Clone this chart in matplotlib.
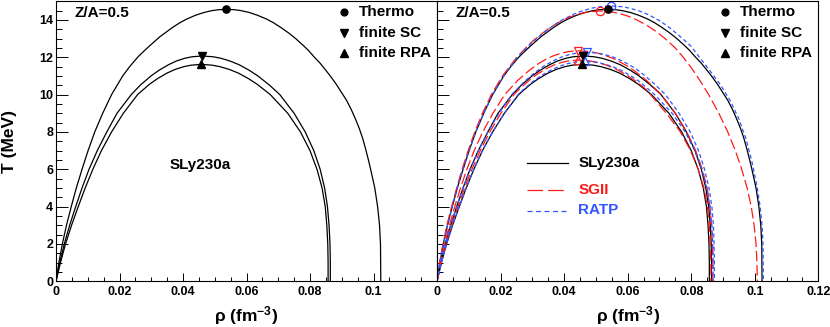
import matplotlib
matplotlib.use("Agg")
import matplotlib.pyplot as plt
from matplotlib.ticker import FixedLocator, FixedFormatter, MultipleLocator

plt.rcParams['font.family'] = ['Liberation Sans', 'DejaVu Sans']
plt.rcParams['font.weight'] = 'bold'
plt.rcParams['mathtext.fontset'] = 'custom'
plt.rcParams['mathtext.rm'] = 'Liberation Sans:bold'
plt.rcParams['mathtext.bf'] = 'Liberation Sans:bold'
plt.rcParams['mathtext.it'] = 'Liberation Sans:bold'

# ---------------- data (rho in fm^-3, T in MeV) ----------------
# SLy230a
sly_thermo_rho = [0.0, 0.0009, 0.0020, 0.0033, 0.0048, 0.0064, 0.0082, 0.0101, 0.0122, 0.0147,
                  0.0175, 0.0210, 0.0232, 0.0257, 0.0275, 0.0294, 0.0327, 0.0367, 0.0390, 0.0412,
                  0.0439, 0.0466, 0.0491, 0.0513, 0.0537,
                  0.0562, 0.0583, 0.0609, 0.0635, 0.0663, 0.0685, 0.0708, 0.0733, 0.0755, 0.0781,
                  0.0796, 0.0814, 0.0831, 0.0850, 0.0866, 0.0883, 0.0898, 0.0915, 0.0930, 0.0943,
                  0.0955, 0.0966, 0.0975, 0.0984, 0.0991, 0.1004, 0.1013, 0.1019, 0.1022, 0.1023]
sly_thermo_T = [0, 1, 2, 3, 4, 5, 6, 7, 8, 9,
                10, 11, 11.5, 12.0, 12.3, 12.6, 13.1, 13.6, 13.85, 14.05,
                14.25, 14.4, 14.5, 14.55, 14.57,
                14.55, 14.5, 14.4, 14.25, 14.05, 13.85, 13.6, 13.3, 13.0, 12.6,
                12.35, 12.0, 11.7, 11.3, 10.95, 10.55, 10.15, 9.7, 9.2, 8.7,
                8.2, 7.65, 7.1, 6.5, 6.0, 5.0, 4.0, 3.0, 2.0, 0]
sly_sc_rho = [0.0, 0.0012, 0.0026, 0.0043, 0.0062, 0.0082, 0.0104, 0.0130, 0.0160, 0.0192,
              0.0237, 0.0265, 0.0299, 0.0324, 0.0354, 0.0379, 0.0406, 0.0429, 0.0460,
              0.0494, 0.0519, 0.0548, 0.0577, 0.0609, 0.0636, 0.0673, 0.0705, 0.0750,
              0.0785, 0.0812, 0.0832, 0.0846, 0.0855, 0.0860, 0.0863, 0.0864, 0.0864]
sly_sc_T = [0, 1, 2, 3, 4, 5, 6, 7, 8, 9,
            10, 10.5, 11.0, 11.3, 11.6, 11.8, 11.95, 12.03, 12.07,
            12.03, 11.95, 11.8, 11.6, 11.3, 11.0, 10.5, 10.0, 9,
            8, 7, 6, 5, 4, 3, 2, 1, 0]
sly_rpa_rho = [0.0, 0.0014, 0.0030, 0.0049, 0.0070, 0.0092, 0.0116, 0.0143, 0.0175, 0.0212,
               0.0257, 0.0260, 0.0294, 0.0319, 0.0349, 0.0375, 0.0403, 0.0426, 0.0457,
               0.0491, 0.0516, 0.0546, 0.0575, 0.0607, 0.0634, 0.0675, 0.0730,
               0.0770, 0.0800, 0.0822, 0.0838, 0.0848, 0.0853, 0.0856, 0.0857, 0.0857]
sly_rpa_T = [0, 1, 2, 3, 4, 5, 6, 7, 8, 9,
             10, 10.05, 10.55, 10.85, 11.15, 11.35, 11.5, 11.58, 11.62,
             11.58, 11.5, 11.35, 11.15, 10.85, 10.55, 10.0, 9,
             8, 7, 6, 5, 4, 3, 2, 1, 0]

# SGII
sg_thermo_rho = [0.0, 0.0008, 0.0019, 0.0031, 0.0046, 0.0062, 0.0079, 0.0098, 0.0119, 0.0143,
                 0.0171, 0.0206, 0.0251, 0.0278, 0.0304, 0.0341, 0.0367, 0.0398, 0.0426, 0.0455,
                 0.0479, 0.0512,
                 0.0546, 0.0571, 0.0600, 0.0628, 0.0661, 0.0687, 0.0718, 0.0750, 0.0775, 0.0798,
                 0.0818, 0.0837, 0.0855, 0.0887, 0.0915, 0.0939, 0.0959, 0.0976, 0.0989, 0.0998,
                 0.1004, 0.1007, 0.1008]
sg_thermo_T = [0, 1, 2, 3, 4, 5, 6, 7, 8, 9,
               10, 11, 12, 12.48, 12.91, 13.41, 13.71, 14.01, 14.21, 14.36,
               14.44, 14.48,
               14.44, 14.36, 14.21, 14.01, 13.71, 13.41, 13.0, 12.5, 12.0, 11.5,
               11.0, 10.5, 10.0, 9, 8, 7, 6, 5, 4, 3,
               2, 1, 0]
sg_sc_rho = [0.0, 0.0011, 0.0024, 0.0039, 0.0056, 0.0074, 0.0094, 0.0117, 0.0144, 0.0176,
             0.0213, 0.0255, 0.0289, 0.0312, 0.0341, 0.0366, 0.0393, 0.0415, 0.0445,
             0.0479, 0.0504, 0.0533, 0.0562, 0.0594, 0.0621, 0.0658, 0.0706, 0.0750,
             0.0786, 0.0814, 0.0835, 0.0850, 0.0859, 0.0864, 0.0867, 0.0868, 0.0868]
sg_sc_T = [0, 1, 2, 3, 4, 5, 6, 7, 8, 9,
           10, 10.78, 11.28, 11.58, 11.88, 12.08, 12.23, 12.31, 12.35,
           12.31, 12.23, 12.08, 11.88, 11.58, 11.28, 10.78, 10.0, 9,
           8, 7, 6, 5, 4, 3, 2, 1, 0]
sg_rpa_rho = [0.0, 0.0013, 0.0028, 0.0046, 0.0066, 0.0087, 0.0110, 0.0136, 0.0166, 0.0201,
              0.0242, 0.0258, 0.0291, 0.0314, 0.0343, 0.0367, 0.0393, 0.0415, 0.0445,
              0.0479, 0.0504, 0.0533, 0.0562, 0.0594, 0.0621, 0.0658, 0.0672, 0.0722,
              0.0766, 0.0798, 0.0822, 0.0840, 0.0851, 0.0857, 0.0860, 0.0862, 0.0862]
sg_rpa_T = [0, 1, 2, 3, 4, 5, 6, 7, 8, 9,
            10, 10.28, 10.78, 11.08, 11.38, 11.58, 11.73, 11.81, 11.85,
            11.81, 11.73, 11.58, 11.38, 11.08, 10.78, 10.28, 10.0, 9,
            8, 7, 6, 5, 4, 3, 2, 1, 0]

# RATP
ra_thermo_rho = [0.0, 0.0009, 0.0020, 0.0033, 0.0048, 0.0064, 0.0082, 0.0101, 0.0122, 0.0147,
                 0.0175, 0.0210, 0.0253, 0.0287, 0.0325, 0.0364, 0.0392, 0.0426, 0.0456, 0.0486,
                 0.0512, 0.0548,
                 0.0582, 0.0607, 0.0637, 0.0666, 0.0698, 0.0725, 0.0761, 0.0799, 0.0826, 0.0858,
                 0.0891, 0.0922, 0.0950, 0.0972, 0.0990, 0.1008, 0.1017, 0.1023, 0.1026, 0.1027]
ra_thermo_T = [0, 1, 2, 3, 4, 5, 6, 7, 8, 9,
               10, 11, 12, 12.6, 13.18, 13.68, 13.98, 14.28, 14.48, 14.63,
               14.71, 14.75,
               14.71, 14.63, 14.48, 14.28, 13.98, 13.68, 13.18, 12.6, 12.0, 11.3,
               10.55, 9.7, 8.7, 7.65, 6.5, 5.0, 4.0, 3.0, 2.0, 0]
ra_sc_rho = [0.0, 0.0012, 0.0026, 0.0043, 0.0062, 0.0082, 0.0104, 0.0130, 0.0160, 0.0195,
             0.0235, 0.0275, 0.0309, 0.0334, 0.0364, 0.0390, 0.0417, 0.0440, 0.0471,
             0.0504, 0.0528, 0.0556, 0.0584, 0.0615, 0.0641, 0.0676, 0.0719, 0.0762,
             0.0797, 0.0823, 0.0842, 0.0856, 0.0865, 0.0870, 0.0872, 0.0873, 0.0873]
ra_sc_T = [0, 1, 2, 3, 4, 5, 6, 7, 8, 9,
           10, 10.7, 11.2, 11.5, 11.8, 12.0, 12.15, 12.23, 12.27,
           12.23, 12.15, 12.0, 11.8, 11.5, 11.2, 10.7, 10.0, 9,
           8, 7, 6, 5, 4, 3, 2, 1, 0]
ra_rpa_rho = [0.0, 0.0014, 0.0030, 0.0049, 0.0070, 0.0092, 0.0116, 0.0143, 0.0175, 0.0212,
              0.0255, 0.0268, 0.0302, 0.0327, 0.0358, 0.0384, 0.0411, 0.0434, 0.0466,
              0.0499, 0.0523, 0.0551, 0.0579, 0.0610, 0.0636, 0.0671, 0.0685, 0.0740,
              0.0781, 0.0811, 0.0833, 0.0849, 0.0859, 0.0865, 0.0868, 0.0869, 0.0869]
ra_rpa_T = [0, 1, 2, 3, 4, 5, 6, 7, 8, 9,
            10, 10.21, 10.71, 11.01, 11.31, 11.51, 11.66, 11.74, 11.78,
            11.74, 11.66, 11.51, 11.31, 11.01, 10.71, 10.21, 10.0, 9,
            8, 7, 6, 5, 4, 3, 2, 1, 0]

# peak markers (rho, T)
sly_peaks = {'thermo': (0.0537, 14.57), 'sc': (0.0460, 12.07), 'rpa': (0.0457, 11.62)}
sg_peaks = {'thermo': (0.0512, 14.48), 'sc': (0.0445, 12.35), 'rpa': (0.0445, 11.85)}
ra_peaks = {'thermo': (0.0548, 14.75), 'sc': (0.0471, 12.27), 'rpa': (0.0466, 11.78)}

x_ticks = [0, 0.02, 0.04, 0.06, 0.08, 0.10, 0.12]
x_labels_left = ['0', '0.02', '0.04', '0.06', '0.08', '0.1', '']
x_labels_right = ['0', '0.02', '0.04', '0.06', '0.08', '0.1', '0.12']
y_ticks = [0, 2, 4, 6, 8, 10, 12, 14]
y_labels = ['0', '2', '4', '6', '8', '10', '12', '14']
legend_markers = ['Thermo', 'finite SC', 'finite RPA']
legend_models = ['SLy230a', 'SGII', 'RATP']

RED = '#ff1a1a'
BLUE = '#3355ff'
W, H = 830, 327

fig = plt.figure(figsize=(W / 100, H / 100), dpi=100)
ax_bottom = (H - 281.3) / H
ax_h = 280.0 / H
axL = fig.add_axes([56 / W, ax_bottom, 381 / W, ax_h])
axR = fig.add_axes([437 / W, ax_bottom, 381.3 / W, ax_h])

for ax, xl in ((axL, x_labels_left), (axR, x_labels_right)):
    ax.set_xlim(0, 0.12)
    ax.set_ylim(0, 15)
    ax.xaxis.set_major_locator(FixedLocator(x_ticks))
    ax.xaxis.set_major_formatter(FixedFormatter(xl))
    ax.xaxis.set_minor_locator(MultipleLocator(0.005))
    ax.yaxis.set_major_locator(FixedLocator(y_ticks))
    ax.yaxis.set_minor_locator(MultipleLocator(0.5))
    ax.tick_params(axis='x', which='major', direction='in', length=5.8, width=0.7,
                   labelsize=9, pad=3.5, top=False)
    ax.tick_params(axis='x', which='minor', direction='in', length=2.9, width=0.7, top=False)
    ax.tick_params(axis='y', which='major', direction='in', length=8.5, width=0.7,
                   labelsize=9, pad=2, right=False)
    ax.tick_params(axis='y', which='minor', direction='in', length=4.3, width=0.7, right=False)
    for s in ax.spines.values():
        s.set_linewidth(0.8)
    for lab in ax.get_xticklabels() + ax.get_yticklabels():
        lab.set_fontweight('bold')

axL.yaxis.set_major_formatter(FixedFormatter(y_labels))
axR.yaxis.set_major_formatter(FixedFormatter([''] * len(y_ticks)))

LW = 0.9
RED_DASH = (8.5, 3.0)
BLUE_DASH = (3.2, 2.2)
# left panel
for r, t in ((sly_thermo_rho, sly_thermo_T), (sly_sc_rho, sly_sc_T), (sly_rpa_rho, sly_rpa_T)):
    axL.plot(r, t, color='black', lw=LW)

mk = {'thermo': 'o', 'sc': 'v', 'rpa': '^'}
msz = {'thermo': 5.2, 'sc': 5.5, 'rpa': 5.5}
for k in ('thermo', 'sc', 'rpa'):
    axL.plot(*sly_peaks[k], marker=mk[k], ms=msz[k], color='black', ls='none')

# right panel
for r, t in ((sly_thermo_rho, sly_thermo_T), (sly_sc_rho, sly_sc_T), (sly_rpa_rho, sly_rpa_T)):
    axR.plot(r, t, color='black', lw=LW)
for r, t in ((sg_thermo_rho, sg_thermo_T), (sg_sc_rho, sg_sc_T), (sg_rpa_rho, sg_rpa_T)):
    axR.plot(r, t, color=RED, lw=LW, dashes=RED_DASH)
for r, t in ((ra_thermo_rho, ra_thermo_T), (ra_sc_rho, ra_sc_T), (ra_rpa_rho, ra_rpa_T)):
    axR.plot(r, t, color=BLUE, lw=LW, dashes=BLUE_DASH)

for k in ('thermo', 'sc', 'rpa'):
    axR.plot(*sg_peaks[k], marker=mk[k], ms=msz[k] + 0.8, mfc='none', mec=RED, mew=0.9, ls='none')
    axR.plot(*ra_peaks[k], marker=mk[k], ms=msz[k] + 0.8, mfc='none', mec=BLUE, mew=0.9, ls='none')
    axR.plot(*sly_peaks[k], marker=mk[k], ms=msz[k], color='black', ls='none')

# texts
FS = 11
def px(x, y):
    return x / W, 1 - y / H

for x0 in (74, 455):
    fig.text(*px(x0, 12.7), 'Z/A=0.5', fontsize=FS, fontweight='bold', ha='left', va='center')

for mx in (343.5, 725):
    rows = (11.7, 33.3, 53.3)
    for (lab, k), yy in zip(zip(legend_markers, ('thermo', 'sc', 'rpa')), rows):
        fig.lines.append(plt.Line2D([mx / W], [1 - yy / H], marker=mk[k], ms=msz[k] - 0.3,
                                    color='black', ls='none', transform=fig.transFigure))
        fig.text(*px(mx + 15, yy), lab, fontsize=FS, fontweight='bold', ha='left', va='center')

fig.text(*px(170, 165), 'SLy230a', fontsize=FS, fontweight='bold', ha='left', va='center')

model_colors = ['black', RED, BLUE]
model_dash = [None, (12.5, 4.0), (4.0, 2.8)]
for lab, c, d, yy in zip(legend_models, model_colors, model_dash, (163.3, 190, 210.5)):
    ln = plt.Line2D([526.7 / W, 568.3 / W], [1 - yy / H] * 2, color=c, lw=LW,
                    transform=fig.transFigure)
    if d is not None:
        ln.set_dashes(d)
    fig.lines.append(ln)
    fig.text(*px(578.3, yy), lab, fontsize=FS, fontweight='bold', color=c, ha='left', va='center')

fig.text(*px(9.5, 141), 'T (MeV)', fontsize=12.5, fontweight='bold', rotation=90,
         ha='center', va='center')
for cx in (246, 628):
    fig.text(*px(cx, 316), 'ρ (fm$^{-3}$)', fontsize=12.5, fontweight='bold',
             ha='center', va='center')

fig.savefig('out.png', dpi=100)
